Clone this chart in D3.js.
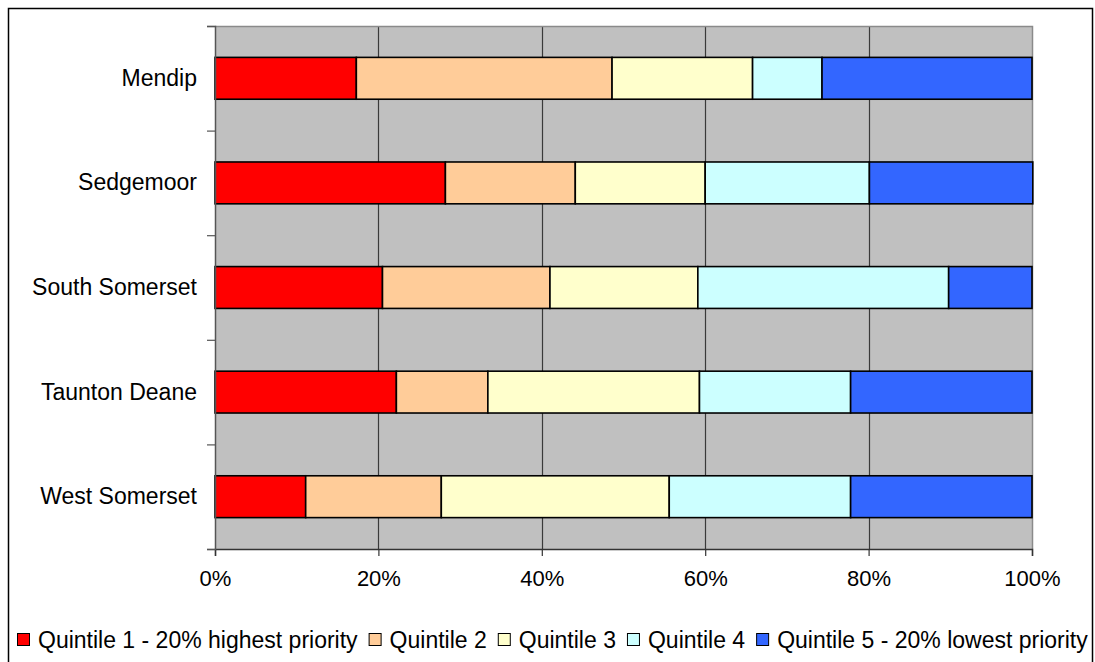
<!DOCTYPE html>
<html>
<head>
<meta charset="utf-8">
<script src="https://cdn.jsdelivr.net/npm/d3@7"></script>
<style>
  html, body { margin: 0; padding: 0; background: #fff; }
  svg { display: block; }
  text { font-family: "Liberation Sans", Arial, sans-serif; fill: #000; }
</style>
</head>
<body>
<svg id="chart" width="1095" height="662"></svg>
<script>
const categories = ["Mendip", "Sedgemoor", "South Somerset", "Taunton Deane", "West Somerset"];
const seriesNames = ["Quintile 1 - 20% highest priority", "Quintile 2", "Quintile 3", "Quintile 4", "Quintile 5 - 20% lowest priority"];
const q1 = [17.3, 28.2, 20.5, 22.2, 11.1];
const q2 = [31.3, 15.9, 20.5, 11.2, 16.6];
const q3 = [17.2, 15.9, 18.1, 25.9, 27.9];
const q4 = [8.5, 20.1, 30.7, 18.5, 22.2];
const q5 = [25.7, 20.0, 10.2, 22.2, 22.2];
const colors = ["#FF0000", "#FFCC99", "#FFFFCC", "#CCFFFF", "#3366FF"];
const xTicks = [0, 20, 40, 60, 80, 100];

const svg = d3.select("#chart");
const plot = { left: 215, right: 1032, top: 26, bottom: 549 };

// outer frame
svg.append("rect").attr("x", 8.5).attr("y", 8.5).attr("width", 1084).attr("height", 670)
  .attr("fill", "#fff").attr("stroke", "#000").attr("stroke-width", 1.5);

const x = d3.scaleLinear().domain([0, 100]).range([plot.left, plot.right]);
const y = d3.scaleBand().domain(categories).range([plot.top, plot.bottom])
  .paddingInner(0.6).paddingOuter(0.3);

// plot background
svg.append("rect").attr("x", plot.left).attr("y", plot.top)
  .attr("width", plot.right - plot.left).attr("height", plot.bottom - plot.top)
  .attr("fill", "#C0C0C0");

// gridlines
svg.append("g").selectAll("line").data(xTicks.filter(t => t > 0 && t < 100)).join("line")
  .attr("x1", d => Math.round(x(d)) + 0.5).attr("x2", d => Math.round(x(d)) + 0.5)
  .attr("y1", plot.top).attr("y2", plot.bottom)
  .attr("stroke", "#3a3a3a").attr("stroke-width", 1.2);

// plot border top & right
svg.append("path")
  .attr("d", `M${plot.left},${plot.top + 0.5}H${plot.right + 0.5}V${plot.bottom}`)
  .attr("fill", "none").attr("stroke", "#8a8a8a").attr("stroke-width", 1.5);

// stacked data
const rows = categories.map((c, i) => ({ cat: c, v: [q1[i], q2[i], q3[i], q4[i], q5[i]] }));
const keys = [0, 1, 2, 3, 4];
const stacked = d3.stack().keys(keys).value((d, k) => d.v[k])(rows);

svg.append("g").selectAll("g").data(stacked).join("g")
  .attr("fill", (d, i) => colors[i])
  .selectAll("rect").data(d => d).join("rect")
  .attr("x", d => x(d[0]))
  .attr("y", d => y(d.data.cat))
  .attr("width", d => x(d[1]) - x(d[0]))
  .attr("height", y.bandwidth())
  .attr("stroke", "#000").attr("stroke-width", 1.6);

// x axis
const xAxis = d3.axisBottom(x).tickValues(xTicks).tickFormat(d => d + "%").tickSize(7).tickPadding(14);
const gx = svg.append("g").attr("transform", `translate(0,${plot.bottom})`).call(xAxis);
gx.select(".domain").attr("stroke", "#333").attr("stroke-width", 1.5);
gx.selectAll(".tick line").attr("stroke", "#333").attr("stroke-width", 1.2);
gx.selectAll(".tick text").attr("font-size", "22px").attr("font-family", "Liberation Sans, Arial, sans-serif").attr("fill", "#000");

// y axis: ticks at band boundaries
const yb = d3.scaleLinear().domain([0, categories.length]).range([plot.top, plot.bottom]);
const gy = svg.append("g").attr("transform", `translate(${plot.left},0)`)
  .call(d3.axisLeft(yb).tickValues(d3.range(categories.length + 1)).tickSize(8).tickFormat(""));
gy.select(".domain").attr("stroke", "#555").attr("stroke-width", 1.5);
gy.selectAll(".tick line").attr("stroke", "#555").attr("stroke-width", 1.2);

// category labels
svg.append("g").selectAll("text").data(categories).join("text")
  .attr("x", plot.left - 18)
  .attr("y", d => y(d) + y.bandwidth() / 2)
  .attr("dy", "0.33em")
  .attr("text-anchor", "end")
  .attr("font-size", "23px")
  .text(d => d);

// legend
const legend = svg.append("g");
let lx = 17;
const ly = 648;
seriesNames.forEach((name, i) => {
  legend.append("rect").attr("x", lx + 0.5).attr("y", ly - 14.5).attr("width", 12).attr("height", 12)
    .attr("fill", colors[i]).attr("stroke", "#000").attr("stroke-width", 1);
  const t = legend.append("text").attr("x", lx + 21).attr("y", ly).attr("font-size", "23px").text(name);
  lx = lx + 21 + t.node().getComputedTextLength() + 11;
});
</script>
</body>
</html>
